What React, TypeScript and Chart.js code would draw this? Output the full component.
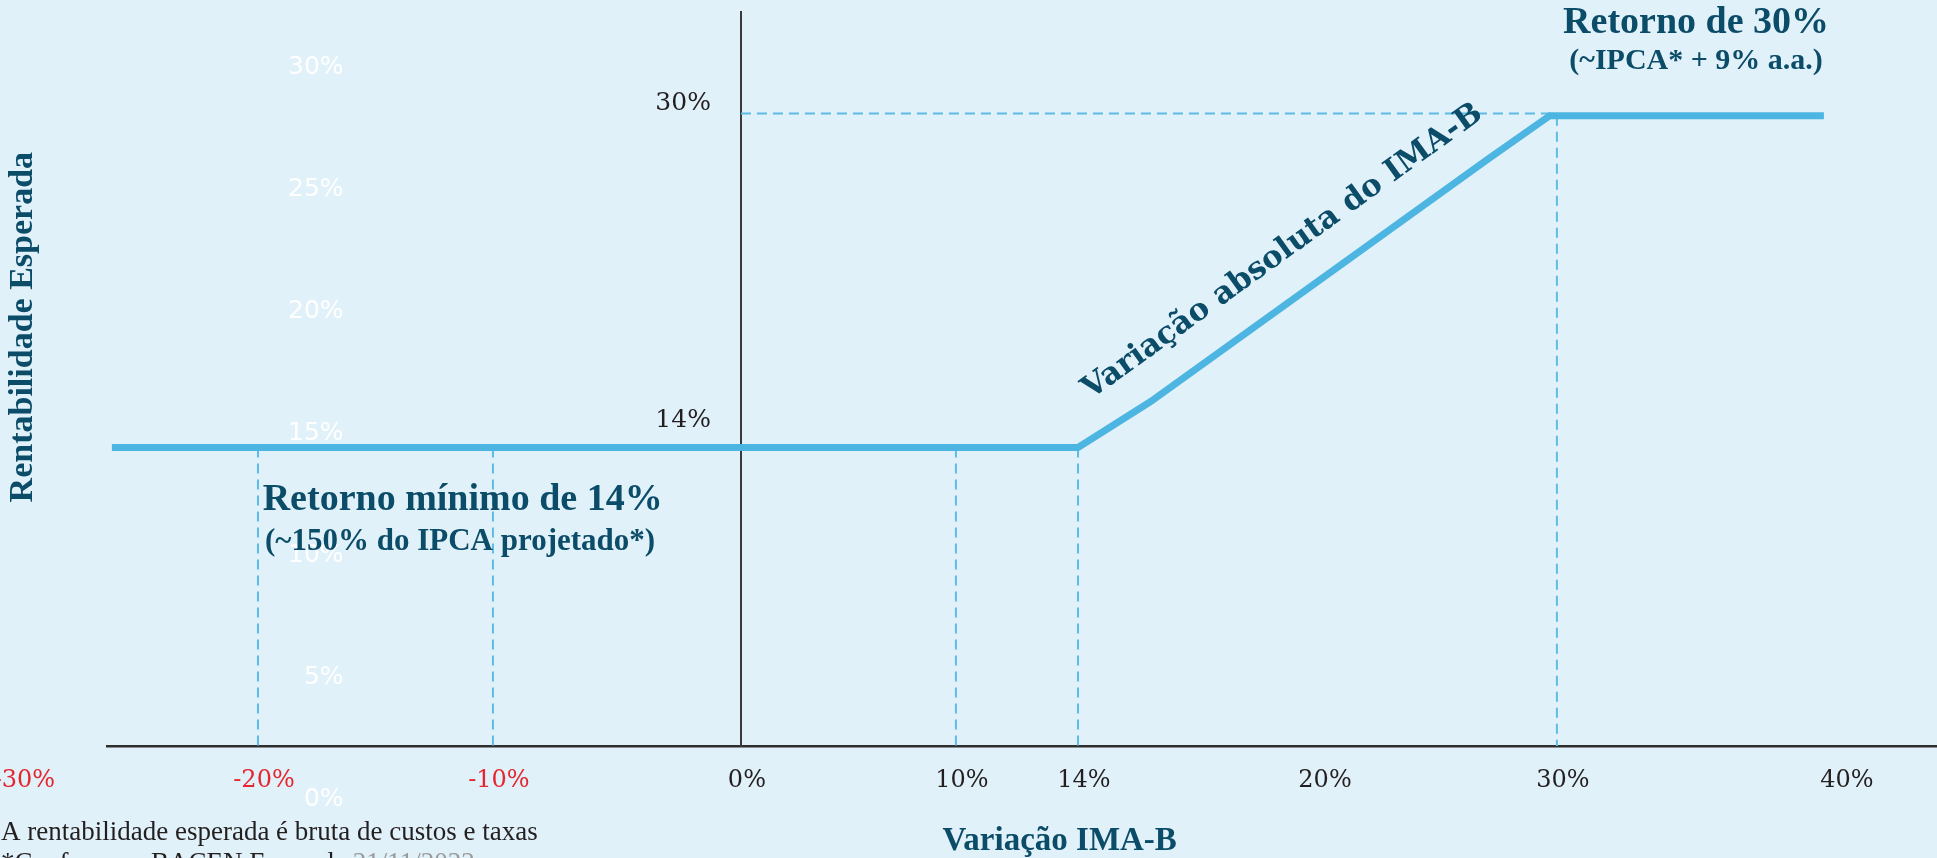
import React, { useEffect, useRef } from 'react';
import { Chart, registerables, LinearScale } from 'chart.js';

Chart.register(...registerables);

// ---------- data ----------
const xTickValues = [-30, -20, -10, 0, 10, 14, 20, 30, 40];
const whiteTickValues = [0, 5, 10, 15, 20, 25, 30];
const markTickValues = [14, 30];

// expected return (y) against IMA-B variation (x)
const returnX = [-26.1, 14, 15.8, 27.1, 29.7, 39.4];
const returnY = [14, 14, 16.2, 27.9, 30, 30];

const floorReturn = 14;
const floorDropX = [-20, -10, 10, 14];
const capReturn = 30;
const capDropX = [30];
const capGuideY = 30.1;

const xTitle = 'Variação IMA-B';
const yTitle = 'Rentabilidade Esperada';
const slopeLabel = 'Variação absoluta do IMA-B';
const floorTitle = 'Retorno mínimo de 14%';
const floorSub = '(~150% do IPCA projetado*)';
const capTitle = 'Retorno de 30%';
const capSub = '(~IPCA* + 9% a.a.)';
const footLine1 = 'A rentabilidade esperada é bruta de custos e taxas';
const footLine2a = '*Conforme o BACEN Focus de ';
const footLine2b = '21/11/2022';

// ---------- layout / style ----------
const W = 1937;
const H = 858;
const BG = '#E1F1F9';
const TEAL = '#0B4C69';
const LINE_BLUE = '#4DB5E1';
const DASH_BLUE = '#5CBCE5';
const INK = '#231F20';
const RED = '#E5262F';

// the hand-spaced x axis: fraction of the plot width at which each tick value sits
const X_KNOT_VALUES = xTickValues;
const X_KNOT_FRACTIONS = [-0.0484, 0.0825, 0.2109, 0.3464, 0.4639, 0.5306, 0.6623, 0.7923, 0.9475];

const Y_MIN = -0.4;
const Y_MAX = 35;
const Y2_MIN = 2.21;
const Y2_MAX = 32.29;
const GAP = '\u2002\u2002\u2009';

function interp(v: number, from: number[], to: number[]): number {
  let i = 0;
  while (i < from.length - 2 && v > from[i + 1]) i++;
  const t = (v - from[i]) / (from[i + 1] - from[i]);
  return to[i] + t * (to[i + 1] - to[i]);
}

class PiecewiseScale extends (LinearScale as any) {
  static id = 'piecewise';
  static defaults = (LinearScale as any).defaults;
  getPixelForValue(value: any) {
    if (value === null || value === undefined || isNaN(value)) return NaN;
    return (this as any).getPixelForDecimal(interp(+value, X_KNOT_VALUES, X_KNOT_FRACTIONS));
  }
  getValueForPixel(pixel: number) {
    return interp((this as any).getDecimalForPixel(pixel), X_KNOT_FRACTIONS, X_KNOT_VALUES);
  }
}
Chart.register(PiecewiseScale as any);

const notesPlugin = {
  id: 'notes',
  afterDraw(chart: any) {
    const { ctx } = chart;
    const sx = chart.scales.x;
    const sy = chart.scales.y;
    const X = (v: number) => sx.getPixelForValue(v);
    const Y = (v: number) => sy.getPixelForValue(v);
    ctx.save();
    ctx.fillStyle = TEAL;
    ctx.textBaseline = 'alphabetic';

    // floor annotation
    ctx.textAlign = 'left';
    ctx.font = 'bold 38px "Liberation Serif"';
    ctx.fillText(floorTitle, X(-19.8), Y(10.96));
    ctx.font = 'bold 31px "Liberation Serif"';
    ctx.fillText(floorSub, X(-19.7), Y(9.04));

    // cap annotation
    ctx.textAlign = 'center';
    ctx.font = 'bold 38px "Liberation Serif"';
    ctx.fillText(capTitle, X(34.9), Y(34.0));
    ctx.font = 'bold 30px "Liberation Serif"';
    ctx.fillText(capSub, X(34.9), Y(32.27));

    // slope label, rotated along the rising segment
    const ang = Math.atan2(Y(returnY[3]) - Y(returnY[2]), X(returnX[3]) - X(returnX[2]));
    ctx.save();
    ctx.translate(X(14.32), Y(16.31));
    ctx.rotate(ang);
    ctx.textAlign = 'left';
    ctx.font = 'bold 31px "DejaVu Serif"';
    ctx.fillText(slopeLabel, 0, 0);
    ctx.restore();

    // axis titles
    ctx.save();
    ctx.translate(23, Y(19.8));
    ctx.rotate(-Math.PI / 2);
    ctx.textAlign = 'center';
    ctx.textBaseline = 'middle';
    ctx.font = 'bold 34px "Liberation Serif"';
    ctx.fillText(yTitle, 0, 0);
    ctx.restore();

    ctx.textAlign = 'center';
    ctx.font = 'bold 33px "Liberation Serif"';
    ctx.fillText(xTitle, X(13.4), chart.height - 8);

    // footnote
    ctx.textAlign = 'left';
    ctx.fillStyle = INK;
    ctx.font = '27px "Liberation Serif"';
    ctx.fillText(footLine1, 1, chart.height - 18);
    ctx.fillText(footLine2a, 1, chart.height + 13);
    const w = ctx.measureText(footLine2a).width;
    ctx.fillStyle = '#9A9A9A';
    ctx.fillText(footLine2b, 1 + w, chart.height + 13);
    ctx.restore();
  },
};

function buildConfig(): any {
  const returnPoints = returnX.map((x, i) => ({ x, y: returnY[i] }));
  const dropPoints: any[] = [];
  floorDropX.forEach((x) => {
    dropPoints.push({ x, y: floorReturn }, { x, y: Y_MIN }, { x, y: null });
  });
  capDropX.forEach((x) => {
    dropPoints.push({ x, y: capReturn }, { x, y: Y_MIN }, { x, y: null });
  });
  const guidePoints = [
    { x: 0, y: capGuideY },
    { x: capDropX[0], y: capGuideY },
  ];

  return {
    type: 'scatter',
    data: {
      datasets: [
        {
          label: 'Rentabilidade',
          data: returnPoints,
          showLine: true,
          borderColor: LINE_BLUE,
          borderWidth: 7,
          borderCapStyle: 'butt',
          borderJoinStyle: 'miter',
          pointRadius: 0,
          pointHoverRadius: 0,
          tension: 0,
          fill: false,
        },
        {
          label: 'guias',
          data: dropPoints,
          showLine: true,
          spanGaps: false,
          borderColor: DASH_BLUE,
          borderWidth: 2,
          borderDash: [10, 6],
          pointRadius: 0,
          pointHoverRadius: 0,
          fill: false,
        },
        {
          label: 'teto',
          data: guidePoints,
          showLine: true,
          borderColor: DASH_BLUE,
          borderWidth: 2,
          borderDash: [10, 6],
          pointRadius: 0,
          pointHoverRadius: 0,
          fill: false,
        },
      ],
    },
    options: {
      responsive: false,
      animation: false,
      devicePixelRatio: 1,
      events: [],
      layout: { padding: { top: 12, left: 0, right: 0, bottom: 0 } },
      plugins: { legend: { display: false }, tooltip: { enabled: false }, title: { display: false } },
      scales: {
        x: {
          type: 'piecewise',
          min: -30,
          max: 40,
          grid: { display: false, drawTicks: false },
          border: { display: true, color: '#2E2E2E', width: 2.5 },
          afterBuildTicks: (s: any) => {
            s.ticks = xTickValues.map((value) => ({ value }));
          },
          afterFit: (s: any) => {
            s.height = 112;
            s.paddingLeft = 0;
            s.paddingRight = 0;
          },
          ticks: {
            autoSkip: false,
            maxRotation: 0,
            minRotation: 0,
            padding: 20,
            labelOffset: 6,
            font: { family: 'DejaVu Serif', size: 24 },
            color: (c: any) => (c.tick && c.tick.value < 0 ? RED : INK),
            callback: (v: any) => `${v}%`,
          },
        },
        y: {
          type: 'linear',
          position: { x: 0 },
          min: Y_MIN,
          max: Y_MAX,
          grid: { display: false, drawTicks: false },
          border: { display: true, color: '#3A3A3A', width: 2 },
          afterBuildTicks: (s: any) => {
            s.ticks = markTickValues.map((value) => ({ value }));
          },
          afterFit: (s: any) => {
            s.paddingTop = 0;
            s.paddingBottom = 0;
            s.paddingLeft = 0;
            s.paddingRight = 0;
          },
          ticks: {
            padding: 30,
            labelOffset: -12,
            font: { family: 'DejaVu Serif', size: 25 },
            color: INK,
            callback: (v: any) => (v === floorReturn ? [`${v}%${GAP}`, ''] : `${v}%${GAP}`),
          },
        },
        y2: {
          type: 'linear',
          position: 'left',
          min: Y2_MIN,
          max: Y2_MAX,
          grid: { display: false, drawTicks: false },
          border: { display: false },
          afterBuildTicks: (s: any) => {
            s.ticks = whiteTickValues.map((value) => ({ value }));
          },
          afterFit: (s: any) => {
            s.width = 107;
            s.paddingTop = 0;
            s.paddingBottom = 0;
          },
          ticks: {
            mirror: true,
            crossAlign: 'far',
            padding: 181,
            color: '#FFFFFF',
            font: { family: 'DejaVu Sans', size: 25 },
            callback: (v: any) => `${v}%`,
          },
        },
      },
    },
    plugins: [notesPlugin],
  };
}

export default function App() {
  const ref = useRef<HTMLCanvasElement | null>(null);
  useEffect(() => {
    if (!ref.current) return;
    const chart = new Chart(ref.current, buildConfig());
    return () => chart.destroy();
  }, []);
  return (
    <div style={{ position: 'fixed', left: 0, top: 0, width: W, height: H, background: BG, overflow: 'hidden' }}>
      <canvas ref={ref} width={W} height={H} style={{ display: 'block', width: W, height: H }} />
    </div>
  );
}
